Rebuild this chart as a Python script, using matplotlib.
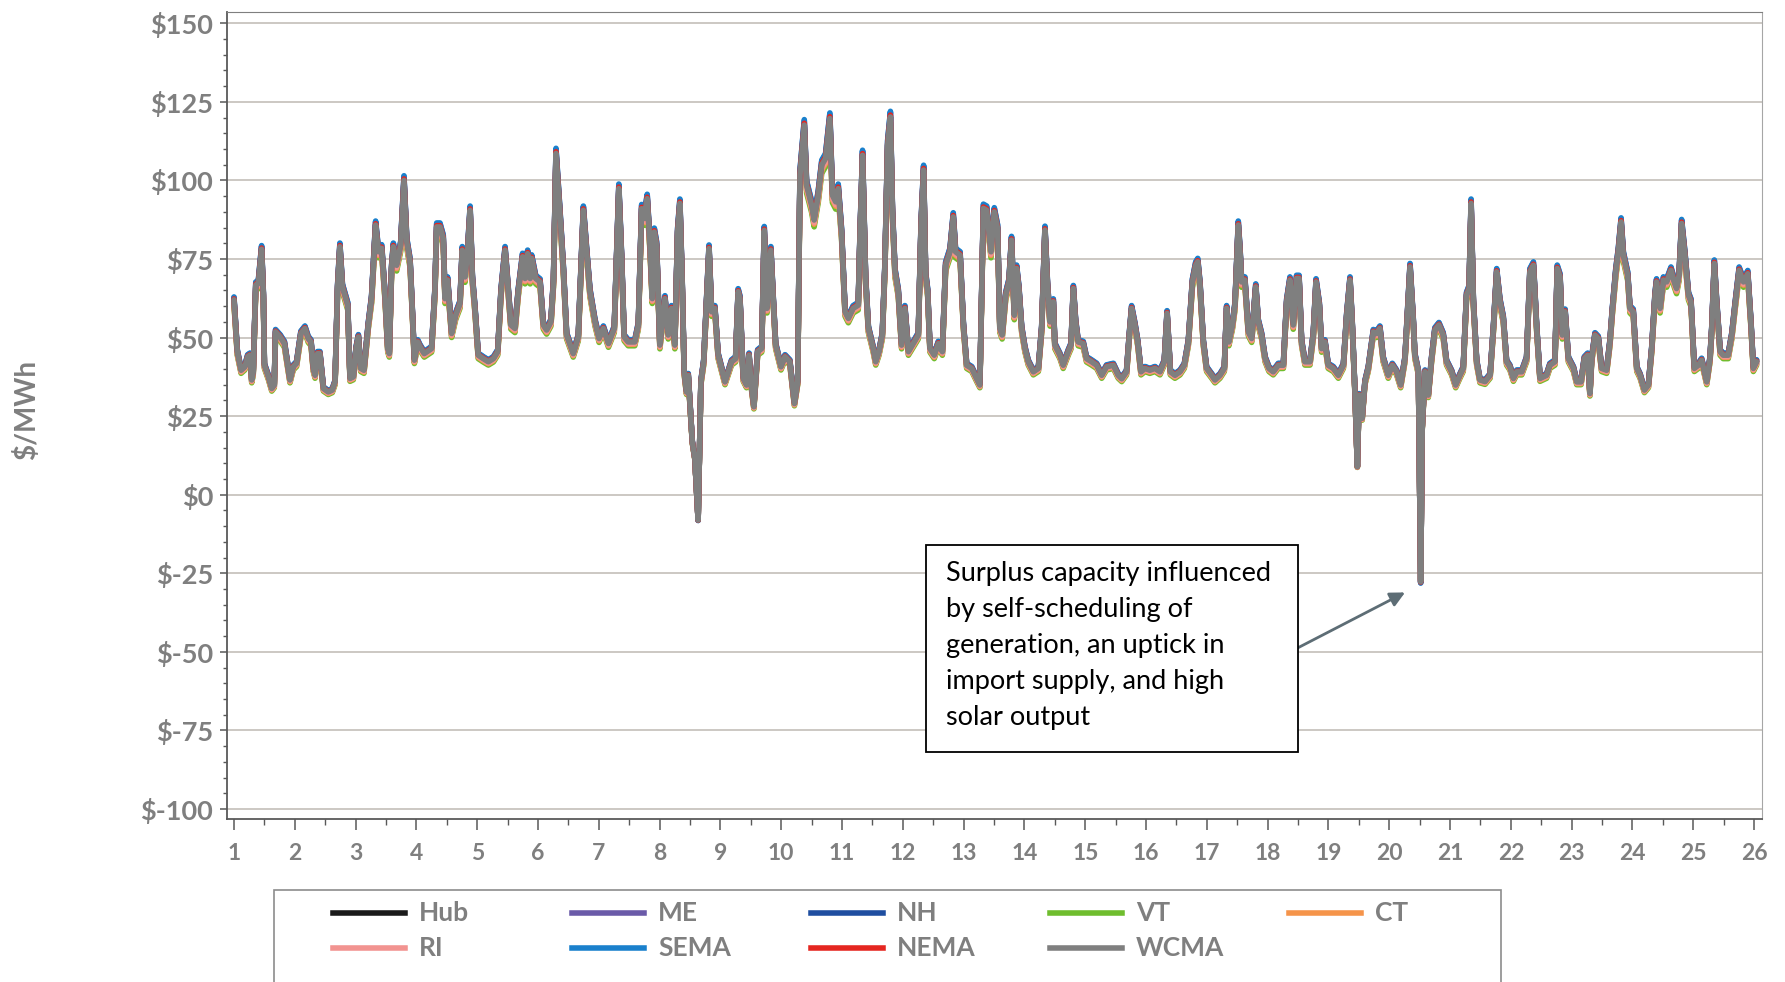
import numpy as np
import matplotlib
matplotlib.use("Agg")
import matplotlib.pyplot as plt
from matplotlib.patches import Rectangle
from matplotlib.lines import Line2D
from matplotlib.ticker import MultipleLocator

hour = [0, 1.3, 2.8, 4.3, 5.4, 6.3, 7, 7.6, 8.6, 9.6, 10.9, 11.6, 12, 13.6, 14.9, 15.9,
        16.4, 18.2, 19.9, 22.1, 23.4, 24.7, 26.4, 28, 29.3, 30.4, 31.3, 32, 33, 33.9,
        35.3, 37.2, 38.8, 39.9, 40.9, 41.8, 42.8, 44.9, 45.8, 47.1, 48.2, 49.1, 50,
        51.3, 53, 54.3, 55.9, 57, 58.3, 59.6, 60.7, 61.3, 62.2, 62.9, 64.2, 65.8, 67.1,
        68.2, 69.5, 70.4, 71.2, 72.5, 73.4, 75.1, 78, 79.3, 80, 81.3, 82.6, 83.3, 84.3,
        85.9, 87.5, 89.2, 90.1, 91.2, 92.2, 93.2, 94.1, 95.1, 96.4, 98.4, 100.4, 102.4,
        104.1, 105.4, 107, 108, 109.3, 110.9, 112.2, 113.9, 114.9, 115.9, 116.9, 117.5,
        119.1, 120.8, 122.1, 123.4, 125.1, 126.1, 127.1, 128.7, 130, 131.3, 133.9,
        135.9, 137.9, 139.2, 140.5, 142.5, 144.1, 145.8, 147.8, 150.1, 151.9, 153, 154,
        155.6, 158.2, 159.6, 160.9, 161.9, 163.1, 164.2, 165.1, 165.9, 166.8, 168.1,
        170.1, 171.4, 172.7, 174, 175.1, 176, 176.9, 177.7, 178.6, 179.3, 180.9, 181.9,
        183.2, 184.3, 185.4, 186.5, 187.5, 188.5, 189.8, 191.1, 193.8, 196.4, 198, 199,
        199.7, 201, 202.3, 203.3, 204, 205.2, 206.7, 208.3, 209.3, 210.4, 211.9, 212.9,
        213.8, 215.9, 217.5, 219.4, 221.2, 222.5, 223.4, 225.1, 226, 228, 229, 230.6,
        232, 233.5, 235.2, 236.2, 237.5, 238.5, 239.8, 241.2, 242.5, 244.4, 246.4,
        247.1, 248.1, 249.3, 250.4, 252.3, 253.3, 254.6, 255.9, 256.9, 258, 259.1,
        259.9, 260.9, 262.2, 263.5, 264.8, 266.2, 268.1, 270.1, 271.2, 272.2, 273,
        273.8, 274.7, 276.4, 278, 279.6, 280.9, 282.6, 283.9, 284.8, 286.6, 287.9,
        289.2, 291.2, 293.1, 294.4, 295.8, 297.1, 298.8, 300.1, 301.4, 302.3, 303.2,
        304.6, 305.9, 306.9, 308, 308.9, 309.8, 310.9, 312.2, 313.5, 315.5, 317.5,
        318.8, 320.1, 321.1, 322.1, 323.4, 324, 326, 327.3, 329.3, 330.4, 331.3, 332.2,
        333.2, 335.2, 336.5, 338.5, 340.5, 342.5, 344.4, 347.1, 349, 350.4, 352.3,
        353.4, 354.3, 355.6, 356.7, 358, 359.6, 361.5, 363.5, 365.5, 367.2, 368.3,
        369.6, 371.4, 373.4, 375.1, 376.7, 378.3, 379.6, 380.4, 381.3, 382.6, 383.9,
        385.9, 387.2, 389.2, 390.9, 391.8, 392.7, 394.1, 395.1, 396.4, 397.1, 397.7,
        399, 400.4, 401.7, 403.3, 404.3, 405.6, 407, 408.5, 410.2, 412.2, 414.2, 415.5,
        416.8, 418.1, 419.4, 420.4, 421.4, 422.7, 424.7, 426, 427.1, 428.4, 429.3,
        430.6, 431.9, 433.9, 435.9, 437.9, 439.2, 440.5, 441.4, 442.5, 443.4, 444.1,
        445.3, 446.4, 447.7, 449.7, 451, 452.3, 453.6, 455.6, 457.2, 458.9, 460.5,
        462.2, 464.2, 465.5, 466.1, 467.5, 468.4, 469, 470.1, 471.4, 472.7, 474, 475.6,
        477.3, 478.6, 480.6, 482.2, 483.9, 485.2, 486.5, 487.5, 488.3, 489.2, 490.5,
        491.8, 493.8, 495.8, 497.1, 498.4, 499.7, 501, 502.3, 503.6, 505, 506.3, 508.3,
        510.2, 511.5, 512.9, 514.2, 515.5, 518.1, 519.4, 521.4, 522.3, 523.4, 524.3,
        525.4, 526.7, 528.7, 530, 531.7, 533, 534.3, 535.2, 535.9, 537.2, 538.5, 539.8,
        541.8, 543.1, 544, 545.4, 546.4, 547.5, 548.4, 550.1, 551, 552.3, 553.7, 555,
        556.7, 558.3, 559.6, 560.9, 561.5, 562.9, 564.2, 565.5, 567.2, 568.5, 569.4,
        570.4, 571.4, 572.7, 574.1, 575.1, 576.4, 578, 579.3, 580.4, 581.3, 582.6,
        583.3, 584.3, 585.2, 586.6, 587.8, 589.8, 591.2, 592.5, 594.1, 595.8, 597.5,
        598.8, 599.7, 601]

wcma = [62, 45.5, 39.6, 40.7, 43.9, 44.4, 36.5, 39.1, 66.7, 67.2, 78.1, 63.5, 41.2, 37.5,
        33.8, 34.9, 51.8, 50.2, 48.1, 36.5, 40.7, 41.8, 51.3, 52.9, 49.7, 48.6, 40.2, 38,
        44.9, 44.9, 33.8, 32.7, 33.3, 35.9, 66.1, 78.9, 66.1, 60.3, 37, 37.5, 46.5, 50.2,
        40.2, 39.6, 54, 62.4, 85.8, 77.3, 78.4, 63.5, 46.5, 44.9, 72, 78.9, 73, 79.4, 100,
        80.5, 74.1, 58.2, 42.8, 48.6, 47.1, 44.9, 46.5, 64.6, 85.2, 85.2, 81.5, 62.4, 68.3,
        51.3, 57.1, 60.8, 77.8, 69.3, 77.3, 90.5, 68.8, 59.3, 44.4, 43.3, 42.3, 43.3, 45.5,
        64.6, 77.8, 67.7, 54, 52.9, 64.6, 75.7, 68.8, 76.7, 68.8, 75.2, 68.8, 67.7, 54,
        52.4, 55, 67.7, 108.6, 89, 72, 50.8, 44.9, 50.2, 90.5, 77.3, 64.6, 55, 49.7, 52.9,
        48.1, 52.9, 97.4, 75.2, 50.2, 48.6, 48.6, 54, 91, 87.9, 94.2, 79.4, 62.4, 83.6,
        79.4, 47.6, 62.4, 50.8, 59.3, 47.6, 83.6, 92.7, 67.7, 39.1, 32.7, 38, 16.8, 11.5,
        -8.1, 35.9, 42.3, 61.4, 78.3, 58.2, 59.3, 44.4, 35.9, 42.3, 43.3, 64.6, 62.4, 37,
        34.9, 44.4, 36, 28, 45.5, 46.5, 84.1, 59.3, 77.8, 61.4, 47.6, 40.7, 43.9, 42.3, 29,
        35.9, 101.7, 117.6, 98.5, 92.1, 87.4, 95.3, 104.9, 107, 119.7, 95.3, 93.2, 97.4,
        83.6, 58.2, 56.1, 59.3, 60.3, 82.6, 108, 68.8, 52.9, 46.5, 42.3, 45.5, 50.8, 72,
        111.2, 120.2, 90, 70.9, 64.6, 47.6, 59.3, 45.5, 48.1, 50.8, 85.8, 103.3, 69.9,
        64.6, 46.5, 44.4, 48.1, 45.5, 73, 77.3, 88.4, 77.3, 76.2, 54, 41.2, 40.2, 37, 34.9,
        91.1, 90.5, 77.3, 90, 84.7, 52.9, 50.8, 63.5, 67.7, 81, 57.1, 72, 65.6, 52.9, 46.5,
        42.3, 39.1, 40.2, 52.9, 84.2, 66.7, 55, 61.4, 47.6, 44.4, 41.2, 45.5, 47.6, 65.6,
        55, 48.6, 48.1, 43.3, 42.3, 41.2, 38, 40.7, 41.2, 38, 36.9, 39.1, 50.8, 59.3, 54,
        48.6, 39.1, 40.2, 39.6, 40.2, 39.1, 42.3, 57.7, 39.1, 38, 39.1, 41.2, 48.6, 67.7,
        73, 74.1, 66.7, 48.6, 40.2, 38, 36.5, 38, 40.2, 59.3, 48.6, 54, 60.3, 85.8, 77.3,
        67.7, 68.3, 51.8, 49.7, 66.1, 55, 50.8, 43.3, 40.2, 39.1, 41.2, 41.2, 61.4, 68.3,
        54, 68.8, 68.8, 48.6, 42.3, 42.3, 50.8, 67.7, 60.3, 46.5, 48.6, 41.2, 40.2, 38,
        41.2, 57.1, 68.3, 54, 31.7, 8.9, 31.7, 24.3, 35.9, 40.2, 51.8, 51.3, 52.9, 43.3, 38,
        41.2, 39.1, 34.9, 43.3, 72.5, 55, 44.4, 39.1, -27.7, 21.1, 39.1, 31.7, 43.3, 52.4,
        54, 50.8, 42.3, 39.1, 34.9, 38, 40.2, 63.5, 65.6, 92.7, 61.4, 42.3, 36.5, 36, 38,
        52.9, 70.9, 61.4, 56.1, 42.3, 40.7, 37, 39.1, 39.1, 43.3, 70.9, 73, 52.9, 37, 38,
        41.2, 42.3, 72, 69.3, 50.8, 58.2, 43.3, 40.2, 35.9, 35.9, 43.3, 44.4, 32.2, 43.3,
        50.8, 49.7, 40.2, 39.6, 48.6, 58.2, 70.9, 77.3, 86.8, 76.2, 69.9, 59.3, 58.2, 40.2,
        38, 33.3, 34.9, 46.5, 63.5, 67.7, 59.3, 68.3, 67.7, 71.4, 67.7, 65.6, 69.9, 86.3,
        76.2, 63.5, 61.4, 40.2, 41.2, 42.8, 39.1, 35.9, 43.3, 52.9, 73.6, 61.4, 45.5, 44.4,
        44.4, 50.8, 60.3, 71.4, 67.7, 70.3, 54, 40.2, 42.3]

# zones (drawn in this order, WCMA on top) and their ratio to the WCMA price
zones = ["Hub", "ME", "NH", "VT", "CT", "RI", "SEMA", "NEMA", "WCMA"]
zone_ratio = [1.0, 0.985, 1.012, 0.975, 0.985, 0.99, 1.015, 1.005, 1.0]
zone_colors = ["#1a1a1a", "#6a5aa8", "#1f4ea0", "#6fbd2e", "#f5944a",
               "#f29390", "#1a80cc", "#e52620", "#7f7f7f"]

y_ticks = list(range(-100, 151, 25))
day_ticks = list(range(1, 27))

W, H = 1785, 982
fig = plt.figure(figsize=(W / 100, H / 100), dpi=100)
ax = fig.add_axes([227 / W, 1 - 819 / H, (1762 - 227) / W, (819 - 12) / H])

grey = "#7f7f7f"
x = 1 + np.array(hour) / 24.0
base = np.array(wcma)
for name, r, c in zip(zones, zone_ratio, zone_colors):
    ax.plot(x, base * r, color=c, lw=4.0, solid_joinstyle="round",
            solid_capstyle="round", zorder=2)

ax.set_xlim(0.885, 26.13)
ax.set_ylim(-103.2, 153.6)

ax.set_yticks(y_ticks)
ax.set_yticklabels(["$" + str(v) for v in y_ticks])
ax.yaxis.set_minor_locator(MultipleLocator(5))
ax.set_xticks(day_ticks)
ax.set_xticklabels([str(d) for d in day_ticks])
ax.set_xticks(np.arange(1.5, 26, 1), minor=True)

ax.yaxis.grid(True, color="#c4bfb9", lw=1.2)
ax.set_axisbelow(True)

for s in ["left", "bottom"]:
    ax.spines[s].set_color("#595959")
    ax.spines[s].set_linewidth(1.3)
ax.spines["top"].set_color("#7f7f7f")
ax.spines["right"].set_color("#a6a6a6")

ax.tick_params(axis="y", which="major", length=5, width=1.1, color="#595959",
               labelcolor=grey, labelsize=19.5, pad=5)
ax.tick_params(axis="y", which="minor", length=3, width=1.0, color="#595959")
ax.tick_params(axis="x", which="major", length=8, width=1.1, color="#595959",
               labelcolor=grey, labelsize=16.5, pad=9)
ax.tick_params(axis="x", which="minor", length=4, width=1.0, color="#595959")
for lab in ax.get_xticklabels() + ax.get_yticklabels():
    lab.set_fontfamily("Lato")
    lab.set_fontweight("bold")

fig.text(27 / W, 1 - 410 / H, "$/MWh", rotation=90, ha="center", va="center",
         color=grey, fontsize=20, fontweight="bold", family="Lato")

# annotation box and arrow
fig.add_artist(Rectangle((926 / W, 1 - 752 / H), 371.5 / W, 207 / H,
                         transform=fig.transFigure, facecolor="white",
                         edgecolor="black", lw=1.3, zorder=5))
fig.text(946 / W, 1 - 646 / H,
         "Surplus capacity influenced\nby self-scheduling of\ngeneration, an uptick in\n"
         "import supply, and high\nsolar output",
         ha="left", va="center", fontsize=19.5, family="Lato", color="black",
         linespacing=1.55, zorder=6)
ax.annotate("", xy=(20.26, -31.1), xytext=(18.48, -48.9),
            arrowprops=dict(arrowstyle="-|>", color="#5d6d75", lw=2,
                            mutation_scale=22, shrinkA=0, shrinkB=0))

# legend, drawn by hand so columns are evenly spaced
fig.add_artist(Rectangle((274 / W, -0.05), (1501 - 274) / W, 0.05 + 1 - 890 / H,
                         transform=fig.transFigure, facecolor="white",
                         edgecolor="#8c8c8c", lw=1.2, zorder=4))
for i, (name, c) in enumerate(zip(zones, zone_colors)):
    row, col = divmod(i, 5)
    x0 = 333 + 239 * col
    yy = 1 - (913 + 35 * row) / H
    fig.add_artist(Line2D([x0 / W, (x0 + 72) / W], [yy, yy], transform=fig.transFigure,
                          color=c, lw=4, zorder=6))
    fig.text((x0 + 86) / W, yy, name, ha="left", va="center", color=grey,
             fontsize=19, fontweight="bold", family="Lato", zorder=6)

fig.savefig("out.png", dpi=100)
